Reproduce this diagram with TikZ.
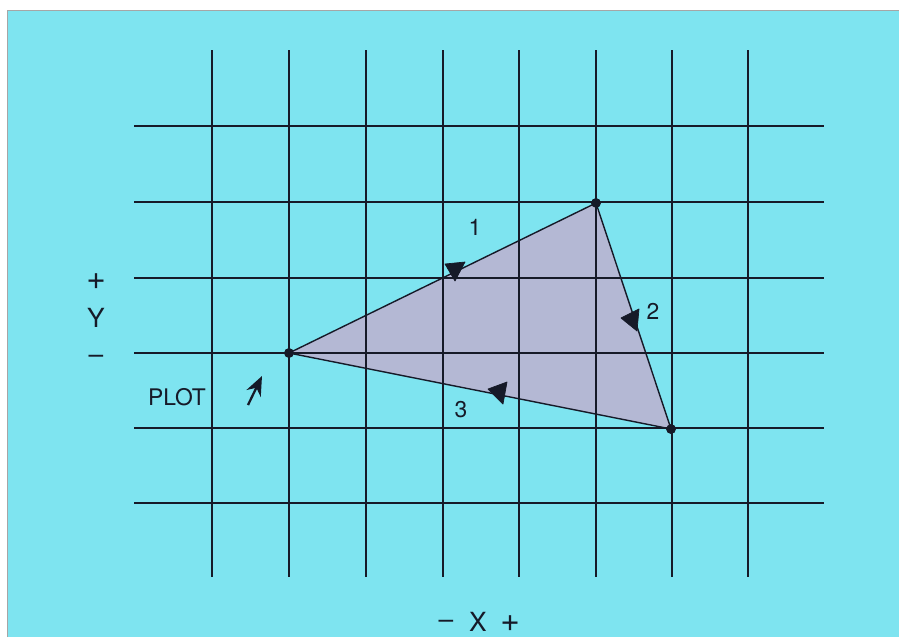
\documentclass[tikz,border=0pt]{standalone}
\usepackage{fontspec}
\setmainfont{TeX Gyre Heros}
\usetikzlibrary{positioning, arrows.meta}

\definecolor{paper}{RGB}{126,228,240}
\definecolor{triFill}{RGB}{180,184,212}
\definecolor{ink}{RGB}{22,26,40}

\begin{document}
\begin{tikzpicture}[
    x=0.02cm, y=-0.02cm,
    gridline/.style={ink, line width=0.8pt},
    edge/.style={ink, line width=0.8pt},
    vertex/.style={circle, fill=ink, inner sep=0pt, minimum size=5.5pt},
    tipmark/.style={fill=ink, draw=ink, line join=round},
    numtext/.style={text=ink, font=\fontsize{13}{15}\selectfont},
    axistext/.style={text=ink, font=\fontsize{15}{17}\selectfont},
    signtext/.style={text=ink, font=\fontsize{19}{21}\selectfont}
]
    \useasboundingbox (0,0) rectangle (899,637);

    % Paper
    \fill[white] (0,0) rectangle (899,637);
    \fill[paper] (7,10) rectangle (899,637);
    \draw[gray!70, line width=0.5pt] (7,637) -- (7,10) -- (899,10);

    % Triangle corners
    \node[vertex] (A) at (289,353) {};
    \node[vertex] (B) at (596,203) {};
    \node[vertex] (C) at (671,429) {};

    % Shaded triangle
    \fill[triFill] (A.center) -- (B.center) -- (C.center) -- cycle;

    % Grid
    \foreach \gx in {212,289,366,443,519,596,672,748}
        \draw[gridline] (\gx,50) -- (\gx,577);
    \foreach \gy in {126,202,278,353,428,503}
        \draw[gridline] (134,\gy) -- (824,\gy);

    % Edges
    \draw[edge] (A.center) -- (B.center);
    \draw[edge] (B.center) -- (C.center);
    \draw[edge] (C.center) -- (A.center);
    \node[vertex] at (A) {};
    \node[vertex] at (B) {};
    \node[vertex] at (C) {};

    % Direction marks
    \filldraw[tipmark] (445,264) -- (465,262) -- (455,281) -- cycle;
    \filldraw[tipmark] (621,318) -- (639,309) -- (637,331) -- cycle;
    \filldraw[tipmark] (488,389) -- (507,382) -- (503,404) -- cycle;

    % Edge numbers
    \node[numtext] (n1) at (475,227) {1};
    \node[numtext] (n2) at (653,311) {2};
    \node[numtext] (n3) at (461,410) {3};

    % Start marker
    \node[numtext] (plot) at (177,397) {PLOT};
    \coordinate (plotTail) at (248,405);
    \coordinate (plotTip) at (262,376);
    \draw[ink, line width=1.3pt, -{Stealth[length=11pt, width=9pt]}] (plotTail) -- (plotTip);

    % Axis labels
    \node[signtext] (yplus) at (96,282) {+};
    \node[axistext] (ylab) at (96,318) {Y};
    \node[axistext] (yminus) at (96,359) {–};
    \node[axistext] (xminus) at (446,624) {–};
    \node[axistext] (xlab) at (478,622) {X};
    \node[signtext] (xplus) at (510,624) {+};
\end{tikzpicture}
\end{document}
